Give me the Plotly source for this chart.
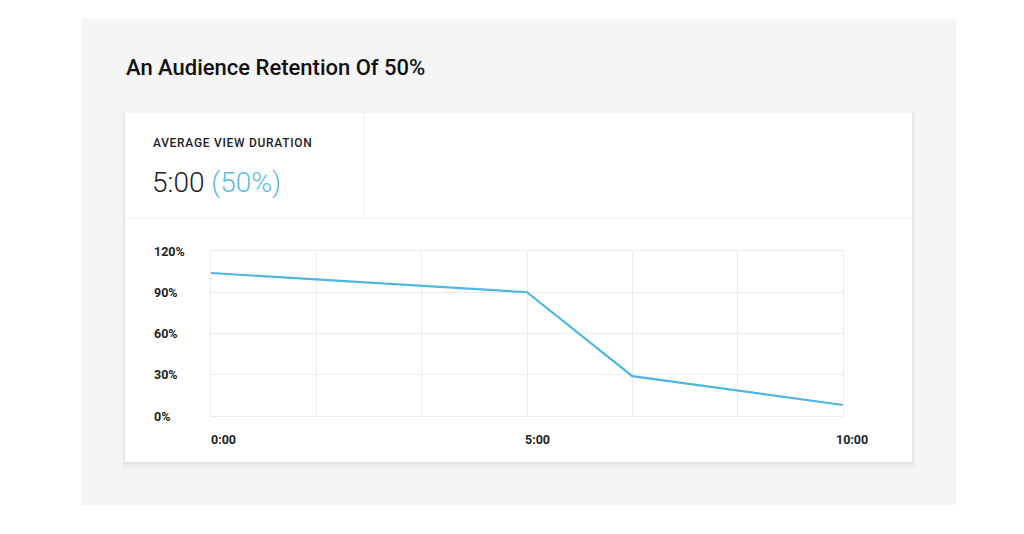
import plotly.graph_objects as go

# retention curve (seconds into video, % of audience)
seconds = [0, 300, 400, 600]
retention = [104, 90, 29, 8]

y_ticks = [0, 30, 60, 90, 120]
y_labels = ["0%", "30%", "60%", "90%", "120%"]
x_grid = [0, 100, 200, 300, 400, 500, 600]
x_label_vals = [0, 300, 600]
x_labels = ["0:00", "5:00", "10:00"]

title = "An Audience Retention Of 50%"
stat_label = "AVERAGE VIEW DURATION"
stat_value = "5:00"
stat_pct = "(50%)"

OFF = 8                      # browser body margin
W, H = 1024 - 2 * OFF, 534 - 2 * OFF
L, R, T, B = 211, 843, 251, 416   # plot area in window pixels
LINE_BLUE = "#4db6e2"
TEXT = "#222222"
FONT = "Roboto"
GRID = "#ececec"


def px(x):
    return (x - L) / (R - L)


def py(y):
    return (B - y) / (B - T)


def rect(x0, y0, x1, y1, fill):
    return dict(type="rect", xref="paper", yref="paper", layer="below",
                x0=px(x0), x1=px(x1), y0=py(y1), y1=py(y0),
                fillcolor=fill, line=dict(width=0))


def seg(x0, y0, x1, y1, color):
    return dict(type="line", xref="paper", yref="paper", layer="below",
                x0=px(x0), x1=px(x1), y0=py(y0), y1=py(y1),
                line=dict(color=color, width=1))


fig = go.Figure()
fig.add_trace(go.Scatter(
    x=seconds, y=retention, mode="lines",
    line=dict(color=LINE_BLUE, width=2.2),
    hoverinfo="skip", showlegend=False,
))

shapes = [
    rect(81, 19, 956, 505, "#f5f5f5"),
    # card shadow
    rect(121, 113, 916, 470, "rgba(0,0,0,0.015)"),
    rect(123, 113, 914, 467, "rgba(0,0,0,0.02)"),
    rect(124, 113, 913, 464, "rgba(0,0,0,0.03)"),
    rect(125, 113, 912, 462, "#ffffff"),
    seg(125, 218, 912, 218, "#eeeeee"),
    seg(364, 113, 364, 218, "#eeeeee"),
]

annotations = [
    dict(text=title, x=px(124), y=py(67), xref="paper", yref="paper",
         xanchor="left", yanchor="middle", showarrow=False,
         font=dict(family=FONT, size=22, color="#111111", weight=500)),
    dict(text="<span style='letter-spacing:0.7px'>" + stat_label + "</span>",
         x=px(151), y=py(143), xref="paper", yref="paper",
         xanchor="left", yanchor="middle", showarrow=False,
         font=dict(family=FONT, size=12, color=TEXT, weight=500)),
    dict(text=stat_value + " <span style='color:#5bbde6'>" + stat_pct + "</span>",
         x=px(150), y=py(182), xref="paper", yref="paper",
         xanchor="left", yanchor="middle", showarrow=False,
         font=dict(family=FONT, size=28, color=TEXT, weight=300)),
]

for v, lab in zip(y_ticks, y_labels):
    annotations.append(dict(text=lab, x=px(152), y=v, xref="paper", yref="y",
                            xanchor="left", yanchor="middle", showarrow=False,
                            font=dict(family=FONT, size=12.5, color=TEXT, weight=700)))

x_shift = [-2, -4, -9]
for v, lab, s in zip(x_label_vals, x_labels, x_shift):
    annotations.append(dict(text=lab, x=v, y=py(439), xref="x", yref="paper",
                            xanchor="left", yanchor="middle", showarrow=False, xshift=s,
                            font=dict(family=FONT, size=12.5, color=TEXT, weight=700)))

fig.update_layout(
    width=W, height=H,
    margin=dict(l=L - OFF, r=W - (R - OFF), t=T - OFF, b=H - (B - OFF), pad=0),
    paper_bgcolor="#ffffff",
    plot_bgcolor="rgba(0,0,0,0)",
    shapes=shapes,
    annotations=annotations,
    xaxis=dict(range=[0, 600], tickvals=x_grid, showticklabels=False,
               showgrid=True, gridcolor=GRID, gridwidth=1,
               zeroline=False, showline=True, linecolor=GRID, mirror=True,
               fixedrange=True),
    yaxis=dict(range=[0, 120], tickvals=y_ticks, showticklabels=False,
               showgrid=True, gridcolor=GRID, gridwidth=1,
               zeroline=False, showline=True, linecolor=GRID, mirror=True,
               fixedrange=True),
    font=dict(family=FONT),
)

fig.write_html("out.html", config={"displayModeBar": False})
